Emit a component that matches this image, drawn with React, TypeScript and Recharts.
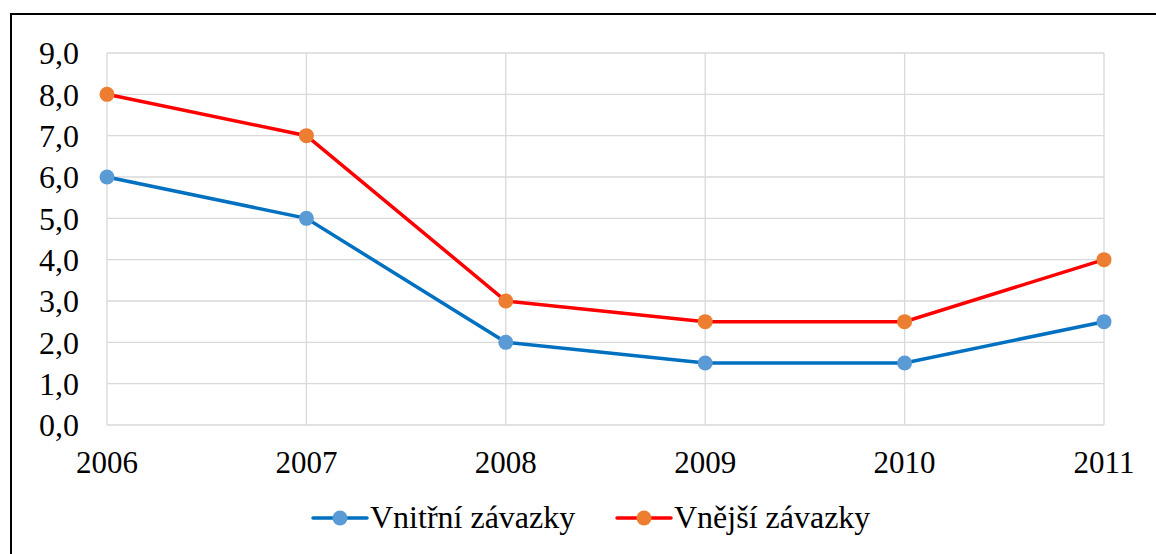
import React from 'react';
import { LineChart, Line, XAxis, YAxis, CartesianGrid, Legend } from 'recharts';

const years = ['2006', '2007', '2008', '2009', '2010', '2011'];
const vnitrni = [6, 5, 2, 1.5, 1.5, 2.5];
const vnejsi = [8, 7, 3, 2.5, 2.5, 4];
const yTicks = [0, 1, 2, 3, 4, 5, 6, 7, 8, 9];
const seriesNames = ['Vnitřní závazky', 'Vnější závazky'];

const data = years.map((y, i) => ({ year: y, vnitrni: vnitrni[i], vnejsi: vnejsi[i] }));

const FONT = '"Liberation Serif", "Times New Roman", serif';

const legendItems = [
  { name: seriesNames[0], line: '#0070C0', dot: '#5B9BD5', x: 313 },
  { name: seriesNames[1], line: '#FF0000', dot: '#ED7D31', x: 617 },
];

const renderLegend = () => (
  <svg width={1156} height={40} style={{ display: 'block' }}>
    {legendItems.map((it, i) => (
      <g key={i}>
        <line x1={it.x} y1={21} x2={it.x + 54} y2={21} stroke={it.line} strokeWidth={3.5} strokeLinecap="round" />
        <circle cx={it.x + 27} cy={21} r={7.5} fill={it.dot} />
        <text x={it.x + 57} y={31} fontFamily={FONT} fontSize={32} fill="#000">{it.name}</text>
      </g>
    ))}
  </svg>
);

export default function App() {
  return (
    <div style={{ position: 'absolute', left: 0, top: 0, width: 1156, height: 554, overflow: 'hidden', background: '#fff' }}>
      <div style={{ position: 'absolute', left: 10, top: 13, width: 1300, height: 700, border: '2px solid #000', boxSizing: 'border-box' }} />
      <div style={{ position: 'absolute', left: 0, top: 0 }}>
        <LineChart width={1156} height={554} data={data} margin={{ top: 53, right: 52, left: 47, bottom: 59 }}>
          <CartesianGrid stroke="#D9D9D9" strokeWidth={1.3} />
          <XAxis
            dataKey="year"
            height={30}
            axisLine={false}
            tickLine={false}
            tickSize={0}
            tickMargin={26}
            interval={0}
            tick={{ fill: '#000', fontSize: 31, fontFamily: FONT }}
          />
          <YAxis
            width={60}
            domain={[0, 9]}
            ticks={yTicks}
            interval={0}
            axisLine={false}
            tickLine={false}
            tickSize={0}
            tickMargin={28}
            tickFormatter={(v: number) => v.toFixed(1).replace('.', ',')}
            tick={{ fill: '#000', fontSize: 32, fontFamily: FONT }}
          />
          <Line
            type="linear"
            dataKey="vnitrni"
            name={seriesNames[0]}
            stroke="#0070C0"
            strokeWidth={3.5}
            dot={{ r: 7.5, fill: '#5B9BD5', stroke: 'none' }}
            activeDot={false}
            isAnimationActive={false}
          />
          <Line
            type="linear"
            dataKey="vnejsi"
            name={seriesNames[1]}
            stroke="#FF0000"
            strokeWidth={3.5}
            dot={{ r: 7.5, fill: '#ED7D31', stroke: 'none' }}
            activeDot={false}
            isAnimationActive={false}
          />
          <Legend
            content={renderLegend}
            wrapperStyle={{ position: 'absolute', top: 497, left: 0, width: 1156, height: 40 }}
          />
        </LineChart>
      </div>
    </div>
  );
}
